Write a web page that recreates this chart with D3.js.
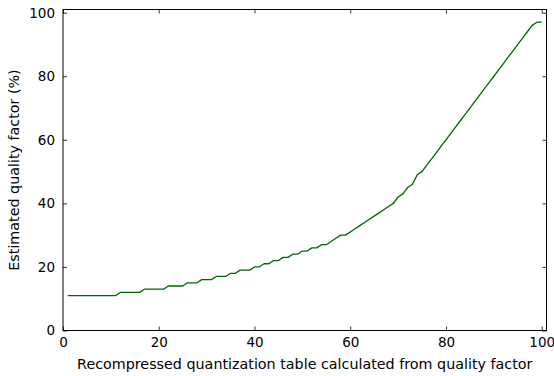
<!DOCTYPE html>
<html>
<head>
<meta charset="utf-8">
<script src="https://cdn.jsdelivr.net/npm/d3@7"></script>
<style>
  html, body { margin: 0; padding: 0; background: #fff; }
  svg { display: block; font-family: "DejaVu Sans", sans-serif; }
</style>
</head>
<body>
<svg id="chart" width="554" height="376"></svg>
<script>
// Quality factor used to build the recompressed quantization table
const qualityFactor = d3.range(1, 101);
// Estimated quality factor (%) for each recompressed table
const estimatedQuality = [
  11, 11, 11, 11, 11, 11, 11, 11, 11, 11,   // 1-10
  11, 12, 12, 12, 12, 12, 13, 13, 13, 13,   // 11-20
  13, 14, 14, 14, 14, 15, 15, 15, 16, 16,   // 21-30
  16, 17, 17, 17, 18, 18, 19, 19, 19, 20,   // 31-40
  20, 21, 21, 22, 22, 23, 23, 24, 24, 25,   // 41-50
  25, 26, 26, 27, 27, 28, 29, 30, 30, 31,   // 51-60
  32, 33, 34, 35, 36, 37, 38, 39, 40, 42,   // 61-70
  43, 45, 46, 49, 50, 52, 54, 56, 58, 60,   // 71-80
  62, 64, 66, 68, 70, 72, 74, 76, 78, 80,   // 81-90
  82, 84, 86, 88, 90, 92, 94, 96, 97, 97    // 91-100
];
const xTicks = [0, 20, 40, 60, 80, 100];
const yTicks = [0, 20, 40, 60, 80, 100];

const margin = { left: 63, right: 7.5, top: 9.5, bottom: 45.5 };
const width = 554, height = 376;
const svg = d3.select("#chart");

const x = d3.scaleLinear().domain([0, 101]).range([margin.left, width - margin.right]);
const y = d3.scaleLinear().domain([0, 101]).range([height - margin.bottom, margin.top]);

const tickLen = 4;
const tickFont = 13.5;
const labelFont = 14.3;

// Axes with inward ticks on all four sides
function styleAxis(g) {
  g.selectAll(".domain").remove();
  g.selectAll(".tick line").attr("stroke", "#000").attr("stroke-width", 0.8);
  g.selectAll(".tick text").attr("fill", "#000").attr("font-size", tickFont)
    .attr("font-family", "DejaVu Sans, sans-serif");
}

const y0 = y(0), yTop = y(101), x0 = x(0), xR = x(101);

svg.append("g").attr("transform", `translate(0,${y0})`)
  .call(d3.axisBottom(x).tickValues(xTicks).tickSize(-tickLen).tickPadding(7).tickFormat(d3.format("d")))
  .call(styleAxis);
svg.append("g").attr("transform", `translate(0,${yTop})`)
  .call(d3.axisTop(x).tickValues(xTicks).tickSize(-tickLen).tickFormat(""))
  .call(styleAxis);
svg.append("g").attr("transform", `translate(${x0},0)`)
  .call(d3.axisLeft(y).tickValues(yTicks).tickSize(-tickLen).tickPadding(8).tickFormat(d3.format("d")))
  .call(styleAxis);
svg.append("g").attr("transform", `translate(${xR},0)`)
  .call(d3.axisRight(y).tickValues(yTicks).tickSize(-tickLen).tickFormat(""))
  .call(styleAxis);

// Curve
const line = d3.line()
  .x((d, i) => x(qualityFactor[i]))
  .y(d => y(d));
svg.append("path")
  .datum(estimatedQuality)
  .attr("fill", "none")
  .attr("stroke", "#006400")
  .attr("stroke-width", 1.3)
  .attr("stroke-linejoin", "round")
  .attr("d", line);

// Frame
svg.append("rect")
  .attr("x", x0).attr("y", yTop)
  .attr("width", xR - x0).attr("height", y0 - yTop)
  .attr("fill", "none").attr("stroke", "#000").attr("stroke-width", 1);

// Axis labels
svg.append("text")
  .attr("x", (x0 + xR) / 2).attr("y", 369)
  .attr("text-anchor", "middle").attr("font-size", labelFont)
  .text("Recompressed quantization table calculated from quality factor");
svg.append("text")
  .attr("transform", `translate(18.5,${(y0 + yTop) / 2}) rotate(-90)`)
  .attr("text-anchor", "middle").attr("font-size", labelFont)
  .text("Estimated quality factor (%)");
</script>
</body>
</html>
